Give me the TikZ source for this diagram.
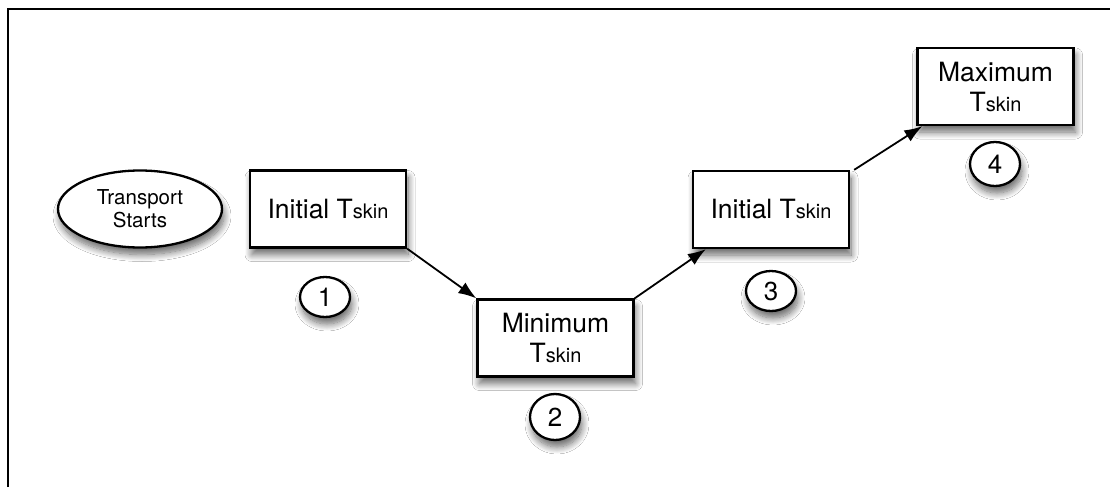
\documentclass[tikz,border=0pt]{standalone}
\usepackage{fontspec}
\setmainfont{TeX Gyre Heros}
\usetikzlibrary{shapes.geometric,arrows.meta,shadows.blur}
\tikzset{
  shad/.style={blur shadow={shadow xshift=2pt,shadow yshift=-7pt,shadow blur radius=7pt,shadow blur steps=12,shadow opacity=60}},
  stepbox/.style={draw,line width=2.3pt,fill=white,minimum width=156pt,minimum height=77pt,inner sep=0pt,align=center,shad,font=\fontsize{26.5}{30}\selectfont},
  startell/.style={draw,line width=2.3pt,fill=white,ellipse,minimum width=164pt,minimum height=77pt,inner sep=0pt,align=center,shad,font=\fontsize{20.5}{23}\selectfont},
  numell/.style={draw,line width=2.3pt,fill=white,ellipse,minimum width=50pt,minimum height=40pt,inner sep=0pt,shad,font=\fontsize{26}{28}\selectfont},
  conn/.style={line width=1.8pt,-{Latex[length=18pt,width=13pt]}}
}
\newcommand{\skn}{{\fontsize{20}{22}\selectfont skin}}
\begin{document}
\begin{tikzpicture}[x=1pt,y=-1pt]
\useasboundingbox (0,0) rectangle (1110,487);
\fill[white] (0,0) rectangle (1110,487);
\coordinate (fbl) at (8,487);
\coordinate (ftl) at (8,9);
\coordinate (ftr) at (1110,9);
\draw[line width=2.3pt] (fbl) -- (ftl) -- (ftr);
\node[startell] (start) at (140,209) {Transport\\Starts};
\node[stepbox] (b1) at (328,209) {Initial T\skn};
\node[stepbox] (b2) at (555.5,338) {Minimum\\T\skn};
\node[stepbox] (b3) at (771,209.5) {Initial T\skn};
\node[stepbox] (b4) at (995.5,86.5) {Maximum\\T\skn};
\node[numell] (n1) at (325,297) {1};
\node[numell,minimum height=46pt] (n2) at (555,417) {2};
\node[numell] (n3) at (771,291) {3};
\node[numell,minimum height=44pt] (n4) at (995,164) {4};
\draw[conn] (b1.south east) -- (b2.north west);
\draw[conn] (b2.north east) -- ([xshift=14pt]b3.south west);
\draw[conn] ([xshift=4pt]b3.north east) -- ([xshift=6pt]b4.south west);
\end{tikzpicture}
\end{document}
